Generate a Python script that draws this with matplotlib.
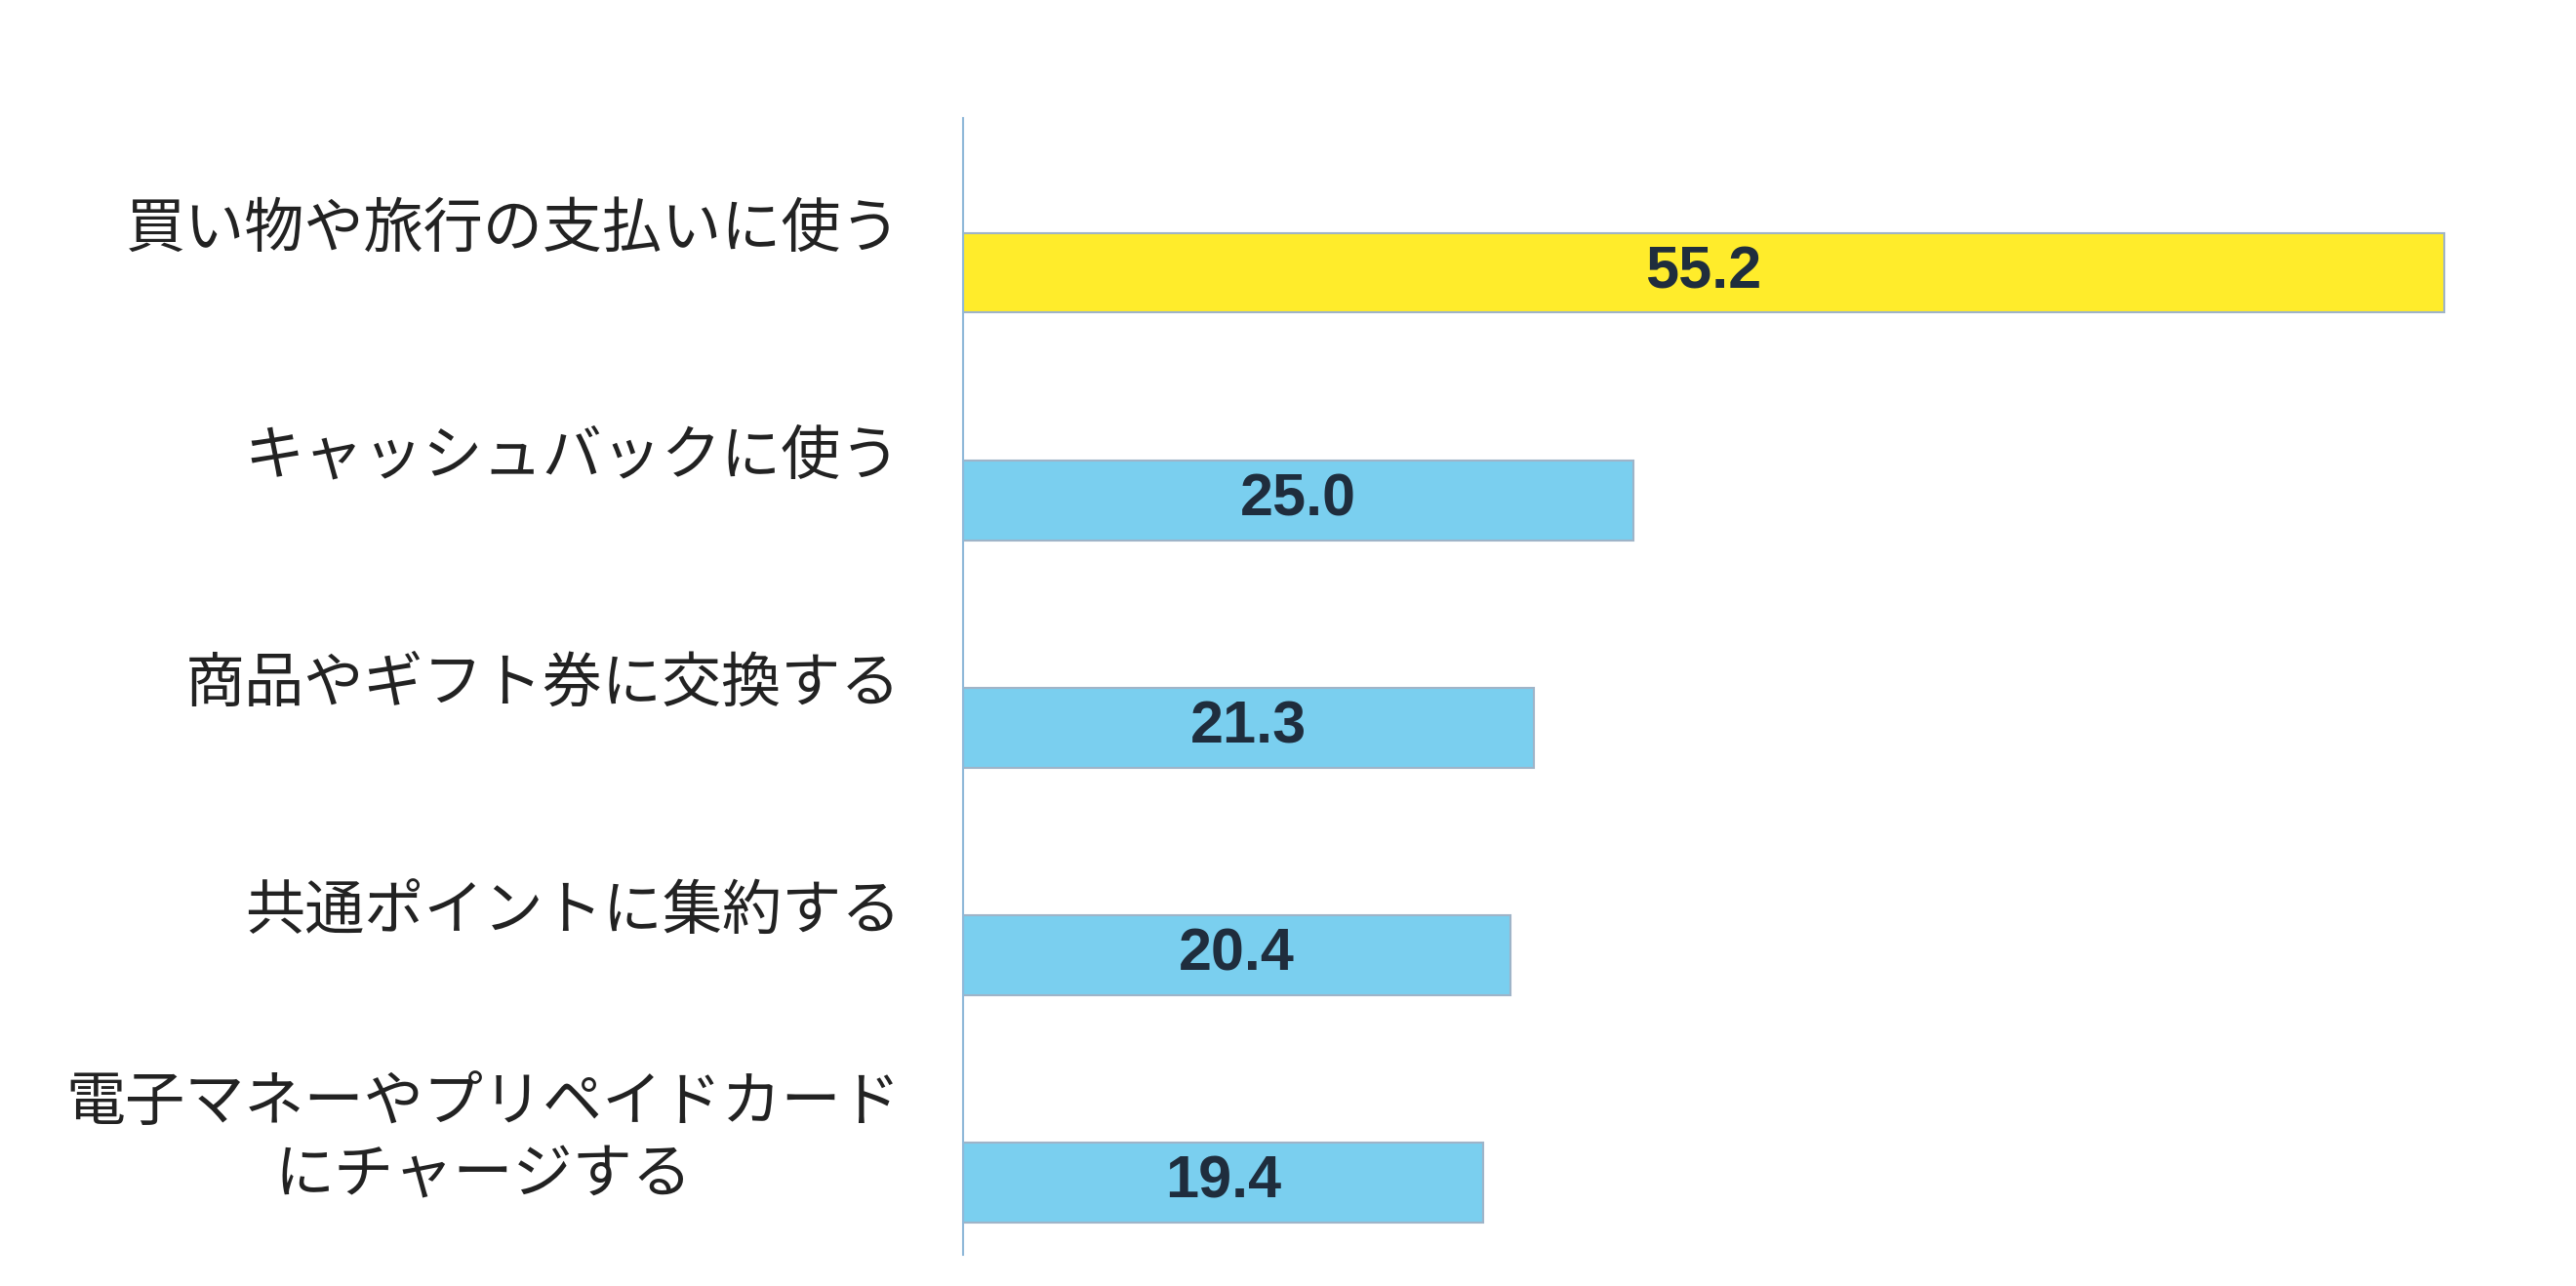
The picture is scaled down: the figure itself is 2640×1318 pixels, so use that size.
import matplotlib.pyplot as plt

plt.rcParams['font.family'] = ['Noto Sans CJK JP', 'DejaVu Sans']

categories = ['買い物や旅行の支払いに使う', 'キャッシュバックに使う', '商品やギフト券に交換する',
              '共通ポイントに集約する', '電子マネーやプリペイドカード\nにチャージする']
values = [55.2, 25.0, 21.3, 20.4, 19.4]
colors = ['#FFEC2B', '#7ACFEF', '#7ACFEF', '#7ACFEF', '#7ACFEF']

fig = plt.figure(figsize=(26.4, 13.18), dpi=100)
ax = fig.add_axes([0.3737, 0.024, 0.625, 0.884])

ypos = list(range(len(values)))
ax.barh(ypos, values, height=0.35, color=colors, edgecolor='#9fb4c8', linewidth=1.5)

for y, v in zip(ypos, values):
    ax.text(v / 2, y, f'{v:.1f}', ha='center', va='center', fontsize=44,
            fontweight='bold', color='#1f2d3d', family=['Liberation Sans', 'DejaVu Sans'])

for y, c in zip(ypos, categories):
    ax.text(-2.3, y - 0.19, c, ha='right', va='center', fontsize=44, color='#222222',
            multialignment='center', linespacing=1.25)

ax.set_xlim(0, 60)
ax.set_ylim(4.32, -0.68)
for s in ['top', 'right', 'bottom']:
    ax.spines[s].set_visible(False)
ax.spines['left'].set_color('#8fb8d8')
ax.spines['left'].set_linewidth(1.5)
ax.set_xticks([])
ax.set_yticks([])

plt.savefig('out.png', dpi=100)
